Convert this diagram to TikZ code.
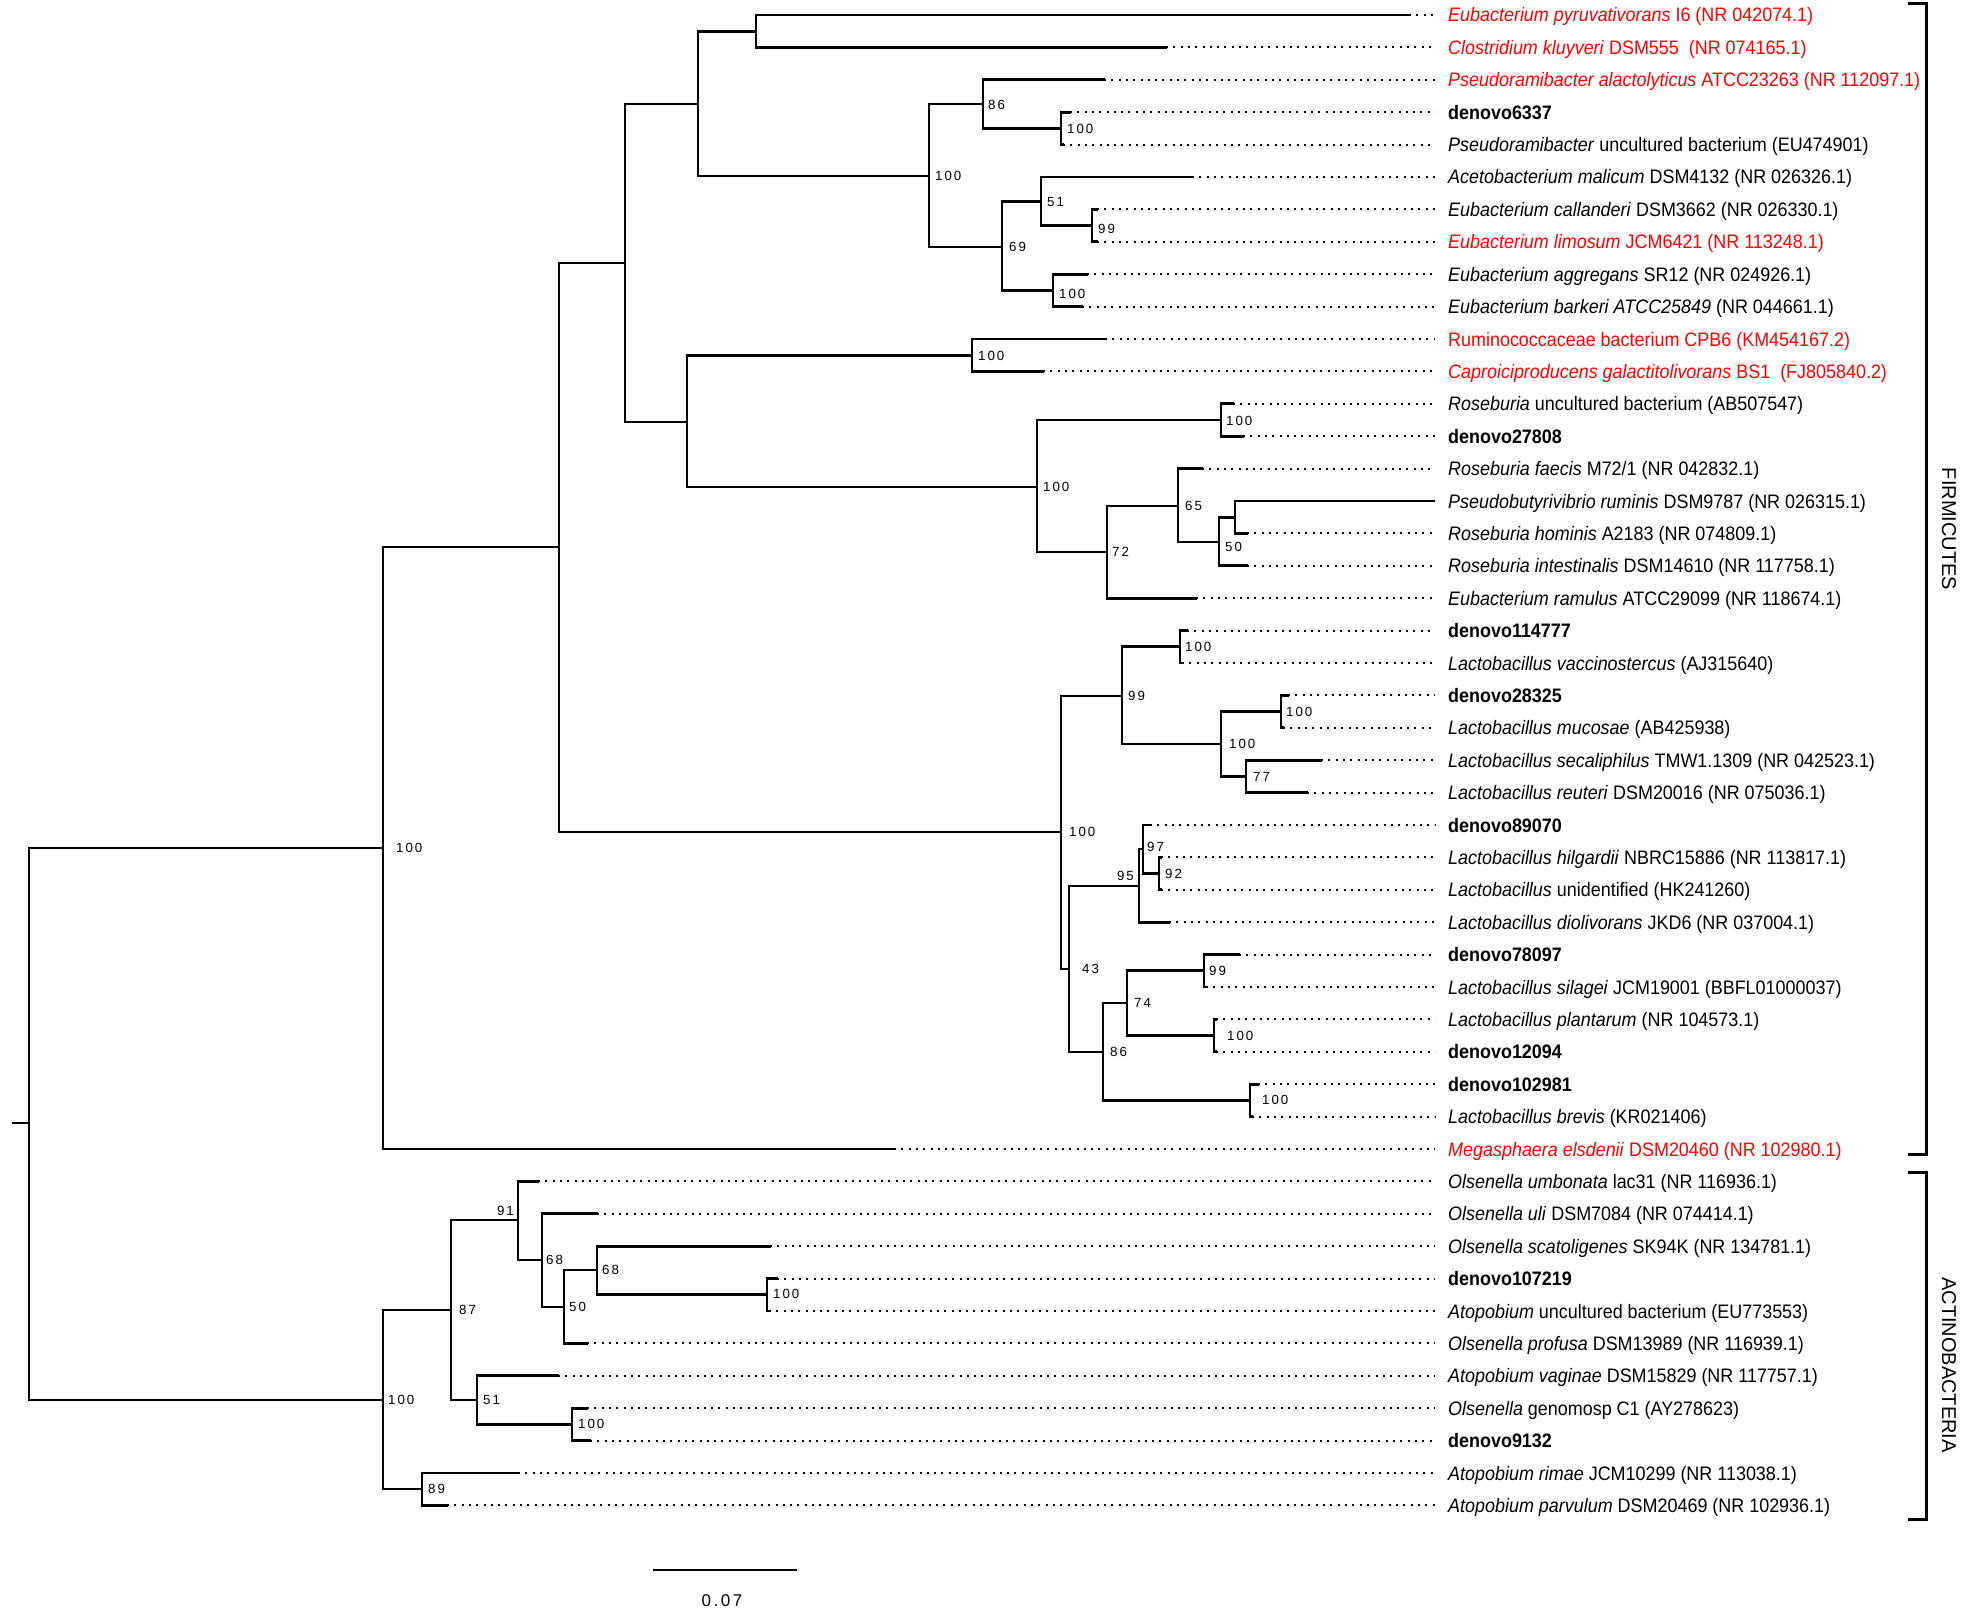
\documentclass[tikz,border=0pt]{standalone}
\usepackage{fontspec}
\setmainfont{Liberation Sans}
\newfontfamily\leaffont[FakeStretch=0.92]{Liberation Sans}
\newfontfamily\bsfont[LetterSpace=15]{Liberation Sans}
\definecolor{tred}{RGB}{255,0,0}
\begin{document}
\begin{tikzpicture}[x=1pt,y=-1pt,
 branch/.style={line width=2.8pt, line cap=rect, line join=miter},
 dotline/.style={line width=2pt, dash pattern=on 2pt off 5.3pt, shorten >=13pt},
 leaflbl/.style={anchor=west, inner sep=0pt, text height=14pt, text depth=0pt, font=\leaffont\fontsize{19.5}{22}\selectfont},
 redlbl/.style={leaflbl, text=tred},
 bs/.style={anchor=west, inner sep=0pt, text height=9.5pt, text depth=0pt, font=\bsfont\fontsize{13.3}{15}\selectfont},
 bsl/.style={bs, anchor=east},
 clade/.style={font=\fontsize{20}{22}\selectfont, rotate=-90, inner sep=0pt},
 bracket/.style={line width=3pt, line join=miter}]
\useasboundingbox (0,0) rectangle (1961,1616);

% internal nodes
\coordinate (stub) at (13,1123);
\coordinate (R) at (29,1123);
\coordinate (F) at (383,848);
\coordinate (AC) at (383,1400);
\coordinate (A1) at (559,547);
\coordinate (A2) at (625,263);
\coordinate (A3) at (698,104);
\coordinate (A5) at (756,31.2);
\coordinate (A6) at (929,176);
\coordinate (A7) at (983,104.1);
\coordinate (A9) at (1061,128.4);
\coordinate (A8) at (1002,247);
\coordinate (A10) at (1041,201.6);
\coordinate (A12) at (1092,225.6);
\coordinate (A11) at (1053,290.4);
\coordinate (A4) at (687,422);
\coordinate (A13) at (972,355.2);
\coordinate (A14) at (1037,487);
\coordinate (A15) at (1221,420);
\coordinate (A16) at (1107,552);
\coordinate (A17) at (1178,506);
\coordinate (A18) at (1219,542);
\coordinate (A19) at (1235,517.2);
\coordinate (L) at (1061,832);
\coordinate (L1) at (1122,696);
\coordinate (L3) at (1180,646.8);
\coordinate (L4) at (1221,744);
\coordinate (L5) at (1281,711.6);
\coordinate (L6) at (1246,776.4);
\coordinate (L2) at (1069,969);
\coordinate (L7) at (1139,886);
\coordinate (L9) at (1143,849);
\coordinate (L10) at (1159,873.6);
\coordinate (L8) at (1103,1052);
\coordinate (L11) at (1127,1003);
\coordinate (L13) at (1204,970.8);
\coordinate (L14) at (1214,1035.6);
\coordinate (L12) at (1250,1100.4);
\coordinate (B1) at (451,1310);
\coordinate (B3) at (518,1220);
\coordinate (B5) at (542,1260);
\coordinate (B6) at (564,1307);
\coordinate (B7) at (597,1270);
\coordinate (B8) at (767,1294.8);
\coordinate (B4) at (477,1400);
\coordinate (B9) at (572,1424.4);
\coordinate (B2) at (422,1489);

% leaf ends of solid branches
\foreach \i/\x/\y in {1/1409/15, 2/1166/47.4, 3/1104/79.8, 4/1070/112.2, 5/1063/144.6,
  6/1192/177, 7/1097/209.4, 8/1097/241.8, 9/1087/274.2, 10/1082/306.6,
  11/1105/339, 12/1043/371.4, 13/1233/403.8, 14/1243/436.2, 15/1202/468.6,
  16/1434/501, 17/1247/533.4, 18/1247/565.8, 19/1196/598.2, 20/1187/630.6,
  21/1182/663, 22/1288/695.4, 23/1283/727.8, 24/1321/760.2, 25/1307/792.6,
  26/1150/825, 27/1161/857.4, 28/1161/889.8, 29/1169/922.2, 30/1239/954.6,
  31/1206/987, 32/1216/1019.4, 33/1216/1051.8, 34/1258/1084.2, 35/1252/1116.6,
  36/894/1149, 37/538/1181.4, 38/597/1213.8, 39/770/1246.2, 40/777/1278.6,
  41/769/1311, 42/587/1343.4, 43/558/1375.8, 44/587/1408.2, 45/590/1440.6,
  46/518/1473, 47/447/1505.4}
  \coordinate (l\i) at (\x,\y);

% branches
\draw[branch] (stub) -- (R);
\foreach \p/\c in {R/F, R/AC, F/A1, F/l36, A1/A2, A1/L, A2/A3, A2/A4,
  A3/A5, A3/A6, A5/l1, A5/l2, A6/A7, A6/A8, A7/l3, A7/A9, A9/l4, A9/l5,
  A8/A10, A8/A11, A10/l6, A10/A12, A12/l7, A12/l8, A11/l9, A11/l10,
  A4/A13, A4/A14, A13/l11, A13/l12, A14/A15, A14/A16, A15/l13, A15/l14,
  A16/A17, A16/l19, A17/l15, A17/A18, A18/A19, A18/l18, A19/l16, A19/l17,
  L/L1, L/L2, L1/L3, L1/L4, L3/l20, L3/l21, L4/L5, L4/L6, L5/l22, L5/l23,
  L6/l24, L6/l25, L2/L7, L2/L8, L7/L9, L7/l29, L9/l26, L9/L10, L10/l27, L10/l28,
  L8/L11, L8/L12, L11/L13, L11/L14, L13/l30, L13/l31, L14/l32, L14/l33,
  L12/l34, L12/l35,
  AC/B1, AC/B2, B1/B3, B1/B4, B3/l37, B3/B5, B5/l38, B5/B6, B6/B7, B6/l42,
  B7/l39, B7/B8, B8/l40, B8/l41, B4/l43, B4/B9, B9/l44, B9/l45, B2/l46, B2/l47}
  \draw[branch] (\p) |- (\c);

% leaf labels
\node[redlbl] (t1) at (1448,15) {\textit{Eubacterium pyruvativorans} I6 (NR 042074.1)};
\node[redlbl] (t2) at (1448,47.4) {\textit{Clostridium kluyveri} DSM555\ \ (NR 074165.1)};
\node[redlbl] (t3) at (1448,79.8) {\textit{Pseudoramibacter alactolyticus} ATCC23263 (NR 112097.1)};
\node[leaflbl] (t4) at (1448,112.2) {\textbf{denovo6337}};
\node[leaflbl] (t5) at (1448,144.6) {\textit{Pseudoramibacter} uncultured bacterium (EU474901)};
\node[leaflbl] (t6) at (1448,177) {\textit{Acetobacterium malicum} DSM4132 (NR 026326.1)};
\node[leaflbl] (t7) at (1448,209.4) {\textit{Eubacterium callanderi} DSM3662 (NR 026330.1)};
\node[redlbl] (t8) at (1448,241.8) {\textit{Eubacterium limosum} JCM6421 (NR 113248.1)};
\node[leaflbl] (t9) at (1448,274.2) {\textit{Eubacterium aggregans} SR12 (NR 024926.1)};
\node[leaflbl] (t10) at (1448,306.6) {\textit{Eubacterium barkeri ATCC25849} (NR 044661.1)};
\node[redlbl] (t11) at (1448,339) {Ruminococcaceae bacterium CPB6 (KM454167.2)};
\node[redlbl] (t12) at (1448,371.4) {\textit{Caproiciproducens galactitolivorans} BS1\ \ (FJ805840.2)};
\node[leaflbl] (t13) at (1448,403.8) {\textit{Roseburia} uncultured bacterium (AB507547)};
\node[leaflbl] (t14) at (1448,436.2) {\textbf{denovo27808}};
\node[leaflbl] (t15) at (1448,468.6) {\textit{Roseburia faecis} M72/1 (NR 042832.1)};
\node[leaflbl] (t16) at (1448,501) {\textit{Pseudobutyrivibrio ruminis} DSM9787 (NR 026315.1)};
\node[leaflbl] (t17) at (1448,533.4) {\textit{Roseburia hominis} A2183 (NR 074809.1)};
\node[leaflbl] (t18) at (1448,565.8) {\textit{Roseburia intestinalis} DSM14610 (NR 117758.1)};
\node[leaflbl] (t19) at (1448,598.2) {\textit{Eubacterium ramulus} ATCC29099 (NR 118674.1)};
\node[leaflbl] (t20) at (1448,630.6) {\textbf{denovo114777}};
\node[leaflbl] (t21) at (1448,663) {\textit{Lactobacillus vaccinostercus} (AJ315640)};
\node[leaflbl] (t22) at (1448,695.4) {\textbf{denovo28325}};
\node[leaflbl] (t23) at (1448,727.8) {\textit{Lactobacillus mucosae} (AB425938)};
\node[leaflbl] (t24) at (1448,760.2) {\textit{Lactobacillus secaliphilus} TMW1.1309 (NR 042523.1)};
\node[leaflbl] (t25) at (1448,792.6) {\textit{Lactobacillus reuteri} DSM20016 (NR 075036.1)};
\node[leaflbl] (t26) at (1448,825) {\textbf{denovo89070}};
\node[leaflbl] (t27) at (1448,857.4) {\textit{Lactobacillus hilgardii} NBRC15886 (NR 113817.1)};
\node[leaflbl] (t28) at (1448,889.8) {\textit{Lactobacillus} unidentified (HK241260)};
\node[leaflbl] (t29) at (1448,922.2) {\textit{Lactobacillus diolivorans} JKD6 (NR 037004.1)};
\node[leaflbl] (t30) at (1448,954.6) {\textbf{denovo78097}};
\node[leaflbl] (t31) at (1448,987) {\textit{Lactobacillus silagei} JCM19001 (BBFL01000037)};
\node[leaflbl] (t32) at (1448,1019.4) {\textit{Lactobacillus plantarum} (NR 104573.1)};
\node[leaflbl] (t33) at (1448,1051.8) {\textbf{denovo12094}};
\node[leaflbl] (t34) at (1448,1084.2) {\textbf{denovo102981}};
\node[leaflbl] (t35) at (1448,1116.6) {\textit{Lactobacillus brevis} (KR021406)};
\node[redlbl] (t36) at (1448,1149) {\textit{Megasphaera elsdenii} DSM20460 (NR 102980.1)};
\node[leaflbl] (t37) at (1448,1181.4) {\textit{Olsenella umbonata} lac31 (NR 116936.1)};
\node[leaflbl] (t38) at (1448,1213.8) {\textit{Olsenella uli} DSM7084 (NR 074414.1)};
\node[leaflbl] (t39) at (1448,1246.2) {\textit{Olsenella scatoligenes} SK94K (NR 134781.1)};
\node[leaflbl] (t40) at (1448,1278.6) {\textbf{denovo107219}};
\node[leaflbl] (t41) at (1448,1311) {\textit{Atopobium} uncultured bacterium (EU773553)};
\node[leaflbl] (t42) at (1448,1343.4) {\textit{Olsenella profusa} DSM13989 (NR 116939.1)};
\node[leaflbl] (t43) at (1448,1375.8) {\textit{Atopobium vaginae} DSM15829 (NR 117757.1)};
\node[leaflbl] (t44) at (1448,1408.2) {\textit{Olsenella} genomosp C1 (AY278623)};
\node[leaflbl] (t45) at (1448,1440.6) {\textbf{denovo9132}};
\node[leaflbl] (t46) at (1448,1473) {\textit{Atopobium rimae} JCM10299 (NR 113038.1)};
\node[leaflbl] (t47) at (1448,1505.4) {\textit{Atopobium parvulum} DSM20469 (NR 102936.1)};

\foreach \i in {1,...,47} \draw[dotline] (l\i) -- (t\i);

% bootstrap values
\node[bs] (b1) at (935,176) {100};
\node[bs] (b2) at (988,105) {86};
\node[bs] (b3) at (1067,129) {100};
\node[bs] (b4) at (1009,247) {69};
\node[bs] (b5) at (1047,202) {51};
\node[bs] (b6) at (1098,229) {99};
\node[bs] (b7) at (1059,294) {100};
\node[bs] (b8) at (978,356) {100};
\node[bs] (b9) at (1043,487) {100};
\node[bs] (b10) at (1226,421) {100};
\node[bs] (b11) at (1112,552) {72};
\node[bs] (b12) at (1185,506) {65};
\node[bs] (b13) at (1225,547) {50};
\node[bs] (b14) at (1069,832) {100};
\node[bs] (b15) at (1128,696) {99};
\node[bs] (b16) at (1185,647) {100};
\node[bs] (b17) at (1229,744) {100};
\node[bs] (b18) at (1286,712) {100};
\node[bs] (b19) at (1253,777) {77};
\node[bs] (b20) at (1082,969) {43};
\node[bsl] (b21) at (1134,876) {95};
\node[bs] (b22) at (1147,847) {97};
\node[bs] (b23) at (1165,874) {92};
\node[bs] (b24) at (1110,1052) {86};
\node[bs] (b25) at (1134,1003) {74};
\node[bs] (b26) at (1209,971) {99};
\node[bs] (b27) at (1227,1036) {100};
\node[bs] (b28) at (1262,1100) {100};
\node[bs] (b29) at (396,848) {100};
\node[bs] (b30) at (388,1400) {100};
\node[bs] (b31) at (459,1310) {87};
\node[bsl] (b32) at (514,1211) {91};
\node[bs] (b33) at (546,1260) {68};
\node[bs] (b34) at (569,1307) {50};
\node[bs] (b35) at (602,1270) {68};
\node[bs] (b36) at (773,1294) {100};
\node[bs] (b37) at (483,1400) {51};
\node[bs] (b38) at (578,1424) {100};
\node[bs] (b39) at (428,1489) {89};

% clade brackets
\coordinate (f1) at (1908,4);
\coordinate (f2) at (1926,4);
\coordinate (f3) at (1926,1154);
\coordinate (f4) at (1908,1154);
\draw[bracket] (f1) -- (f2) -- (f3) -- (f4);
\coordinate (a1) at (1908,1172);
\coordinate (a2) at (1926,1172);
\coordinate (a3) at (1926,1519);
\coordinate (a4) at (1908,1519);
\draw[bracket] (a1) -- (a2) -- (a3) -- (a4);
\node[clade] (firm) at (1949,529) {FIRMICUTES};
\node[clade] (acti) at (1949,1365) {ACTINOBACTERIA};

% scale bar
\coordinate (sb1) at (653,1570);
\coordinate (sb2) at (797,1570);
\draw[line width=2.6pt] (sb1) -- (sb2);
\node[font=\bsfont\fontsize{17}{19}\selectfont, inner sep=0pt] (sbl) at (722,1601) {0.07};
\end{tikzpicture}
\end{document}
